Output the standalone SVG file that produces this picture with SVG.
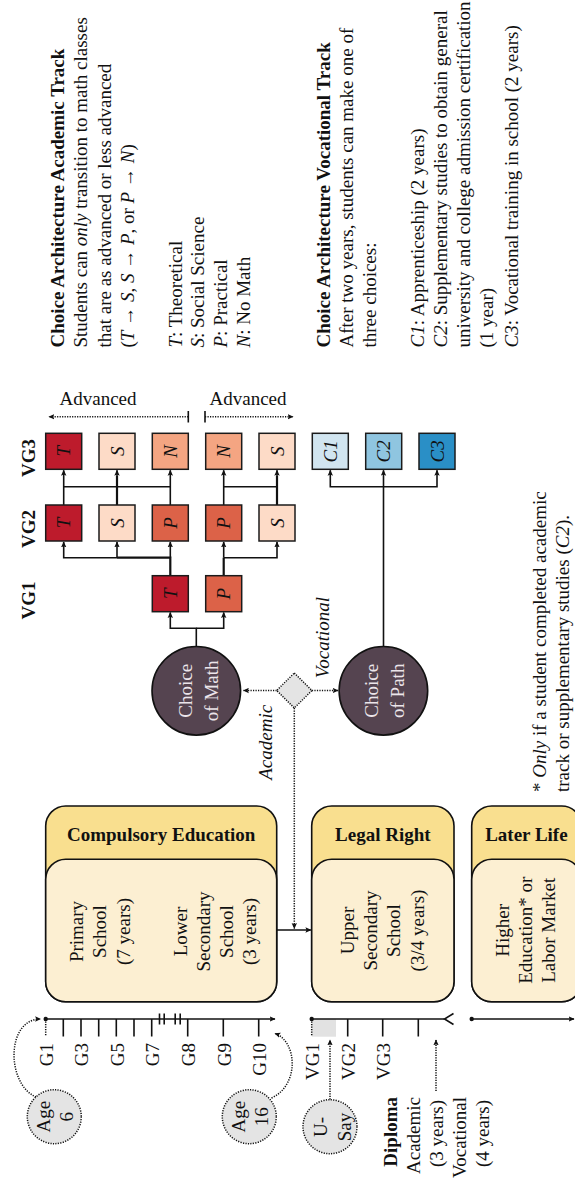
<svg xmlns="http://www.w3.org/2000/svg" width="575" height="1181" viewBox="0 0 575 1181">
<defs>
<style>
text{font-family:"Liberation Serif","Times New Roman",serif;font-size:19px;fill:#111}
.b{font-weight:bold}
.i{font-style:italic}
.m{text-anchor:middle}
.e{text-anchor:end}
.box{stroke:#1b1b1b;stroke-width:1.5}
.ln{fill:none;stroke:#111;stroke-width:1.6}
.lt{fill:none;stroke:#111;stroke-width:2.2}
.dot{fill:none;stroke:#111;stroke-width:1.5;stroke-dasharray:1.2 1.3}
.cw{fill:#ece5ea}
.hdr{fill:#f9df8f;stroke:#111;stroke-width:1.6}
.inn{fill:#fcefd2;stroke:#111;stroke-width:1.6}
.gc{fill:#e4e4e4;stroke:#111;stroke-width:1.5;stroke-dasharray:1.2 1.3}
.dk{fill:#554450;stroke:#111;stroke-width:1.6}
.cT{fill:#bd1b2c}.cS{fill:#fddbc7}.cP{fill:#dc6248}.cN{fill:#f4a582}
.c1{fill:#d1e5f0}.c2{fill:#8fc5e0}.c3{fill:#2a8fc6}
</style>
<marker id="ah" viewBox="0 0 10 10" refX="9" refY="5" markerWidth="6" markerHeight="6" markerUnits="userSpaceOnUse" orient="auto">
<path d="M0,0.5 L10,5 L0,9.5 L2,5 z" fill="#111"/>
</marker>
</defs>

<!-- Top description blocks -->
<g id="academic-text" transform="translate(64.3,347.5) rotate(-90)">
<text class="b" x="0" y="0">Choice Architecture Academic Track</text>
<text x="0" y="23.2">Students can <tspan class="i">only</tspan> transition to math classes</text>
<text x="0" y="47">that are as advanced or less advanced</text>
<text x="0" y="70">(<tspan class="i">T</tspan> → <tspan class="i">S</tspan>, <tspan class="i">S</tspan> → <tspan class="i">P</tspan>, or <tspan class="i">P</tspan> → <tspan class="i">N</tspan>)</text>
<text x="0" y="117.5"><tspan class="i">T</tspan>: Theoretical</text>
<text x="0" y="140"><tspan class="i">S</tspan>: Social Science</text>
<text x="0" y="163"><tspan class="i">P</tspan>: Practical</text>
<text x="0" y="186"><tspan class="i">N</tspan>: No Math</text>
</g>
<g id="vocational-text" transform="translate(330,347.5) rotate(-90)">
<text class="b" x="0" y="0">Choice Architecture Vocational Track</text>
<text x="0" y="22.8">After two years, students can make one of</text>
<text x="0" y="46">three choices:</text>
<text x="0" y="94"><tspan class="i">C1</tspan>: Apprenticeship (2 years)</text>
<text x="0" y="116.8"><tspan class="i">C2</tspan>: Supplementary studies to obtain general</text>
<text x="0" y="140">university and college admission certification</text>
<text x="0" y="163">(1 year)</text>
<text x="0" y="187.5"><tspan class="i">C3</tspan>: Vocational training in school (2 years)</text>
</g>

<!-- Advanced labels -->
<g id="advanced-left">
<text class="m" x="98" y="405">Advanced</text>
</g>
<g id="advanced-right">
<text class="m" x="248" y="405">Advanced</text>
</g>

<!-- VG row labels -->
<g id="vg-labels">
<text class="b m" transform="translate(35,458) rotate(-90)">VG3</text>
<text class="b m" transform="translate(35,529) rotate(-90)">VG2</text>
<text class="b m" transform="translate(35,600.5) rotate(-90)">VG1</text>
</g>

<!-- Connectors -->
<g id="connectors">
<path class="dot" d="M188.3,416.7 H49" marker-end="url(#ah)"/>
<path class="ln" d="M188.3,411 V422.5"/>
<path class="dot" d="M205,416.7 H293" marker-end="url(#ah)"/>
<path class="ln" d="M205,411 V422.5"/>

<path class="ln" d="M196.3,646.5 V628.3 H170.3 V612.5" marker-end="url(#ah)"/>
<path class="ln" d="M196.3,628.3 H223.7 V612.5" marker-end="url(#ah)"/>

<path class="lt" d="M170.3,575.7 V557.7 H117"/>
<path class="ln" d="M117,557.7 H63.7 V542" marker-end="url(#ah)"/>
<path class="ln" d="M117,557.7 V542" marker-end="url(#ah)"/>
<path class="ln" d="M170.3,557.7 V542" marker-end="url(#ah)"/>
<path class="lt" d="M223.7,575.7 V557.7"/>
<path class="ln" d="M223.7,557.7 V542" marker-end="url(#ah)"/>
<path class="ln" d="M223.7,557.7 H277 V542" marker-end="url(#ah)"/>

<path class="ln" d="M63.7,505 V470.3" marker-end="url(#ah)"/>
<path class="ln" d="M63.7,486.7 H170.3"/>
<path class="lt" d="M117,505 V476"/>
<path class="ln" d="M117,476 V470.3" marker-end="url(#ah)"/>
<path class="ln" d="M170.3,505 V470.3" marker-end="url(#ah)"/>
<path class="ln" d="M223.7,505 V470.3" marker-end="url(#ah)"/>
<path class="ln" d="M223.7,486.7 H277"/>
<path class="lt" d="M277,505 V476"/>
<path class="ln" d="M277,476 V470.3" marker-end="url(#ah)"/>

<path class="ln" d="M383.5,646.5 V486.7 H330.3 V470.3" marker-end="url(#ah)"/>
<path class="ln" d="M383.5,486.7 H437 V470.3" marker-end="url(#ah)"/>
<path class="ln" d="M383.5,486.7 V470.3" marker-end="url(#ah)"/>

<path class="dot" d="M276.7,690.5 H243.5" marker-end="url(#ah)"/>
<path class="dot" d="M311.9,690.5 H338" marker-end="url(#ah)"/>
<path class="dot" d="M294.3,708 V928.5" marker-end="url(#ah)"/>
<path class="ln" d="M276.7,930 H310.8" marker-end="url(#ah)"/>

<path class="dot" d="M36,1097 C6,1084 6,1019 40.5,1019" marker-end="url(#ah)"/>
<path class="dot" d="M271.5,1098 C300,1085 297,1041 275,1033.5" marker-end="url(#ah)"/>
<path class="dot" d="M330,1099.5 V1040" marker-end="url(#ah)"/>
<path class="dot" d="M436,1091 V1040" marker-end="url(#ah)"/>
</g>

<!-- Academic / Vocational labels -->
<text class="i m" transform="translate(271.5,742.3) rotate(-90)">Academic</text>
<text class="i m" transform="translate(329,637.5) rotate(-90)">Vocational</text>

<!-- Math boxes VG3 -->
<g id="vg3-T"><rect class="box cT" x="45.7" y="433.3" width="36" height="36"/><text class="i m" transform="translate(70.2,451.3) rotate(-90)">T</text></g>
<g id="vg3-S1"><rect class="box cS" x="99" y="433.3" width="36" height="36"/><text class="i m" transform="translate(123.5,451.3) rotate(-90)">S</text></g>
<g id="vg3-N1"><rect class="box cN" x="152.3" y="433.3" width="36" height="36"/><text class="i m" transform="translate(176.8,451.3) rotate(-90)">N</text></g>
<g id="vg3-N2"><rect class="box cN" x="205.7" y="433.3" width="36" height="36"/><text class="i m" transform="translate(230.2,451.3) rotate(-90)">N</text></g>
<g id="vg3-S2"><rect class="box cS" x="259" y="433.3" width="36" height="36"/><text class="i m" transform="translate(283.5,451.3) rotate(-90)">S</text></g>
<g id="vg3-C1"><rect class="box c1" x="312.3" y="433.3" width="36" height="36"/><text class="i m" transform="translate(336.8,451.3) rotate(-90)">C1</text></g>
<g id="vg3-C2"><rect class="box c2" x="365.7" y="433.3" width="36" height="36"/><text class="i m" transform="translate(390.2,451.3) rotate(-90)">C2</text></g>
<g id="vg3-C3"><rect class="box c3" x="419" y="433.3" width="36" height="36"/><text class="i m" transform="translate(443.5,451.3) rotate(-90)">C3</text></g>

<!-- Math boxes VG2 -->
<g id="vg2-T"><rect class="box cT" x="45.7" y="505" width="36" height="36"/><text class="i m" transform="translate(70.2,523) rotate(-90)">T</text></g>
<g id="vg2-S1"><rect class="box cS" x="99" y="505" width="36" height="36"/><text class="i m" transform="translate(123.5,523) rotate(-90)">S</text></g>
<g id="vg2-P1"><rect class="box cP" x="152.3" y="505" width="36" height="36"/><text class="i m" transform="translate(176.8,523) rotate(-90)">P</text></g>
<g id="vg2-P2"><rect class="box cP" x="205.7" y="505" width="36" height="36"/><text class="i m" transform="translate(230.2,523) rotate(-90)">P</text></g>
<g id="vg2-S2"><rect class="box cS" x="259" y="505" width="36" height="36"/><text class="i m" transform="translate(283.5,523) rotate(-90)">S</text></g>

<!-- Math boxes VG1 -->
<g id="vg1-T"><rect class="box cT" x="152.3" y="575.7" width="36" height="36"/><text class="i m" transform="translate(176.8,593.7) rotate(-90)">T</text></g>
<g id="vg1-P"><rect class="box cP" x="205.7" y="575.7" width="36" height="36"/><text class="i m" transform="translate(230.2,593.7) rotate(-90)">P</text></g>

<!-- Choice circles and diamond -->
<g id="choice-math">
<circle class="dk" cx="196.3" cy="690.8" r="44.3"/>
<text class="m cw" transform="translate(191.5,690.8) rotate(-90)">Choice</text>
<text class="m cw" transform="translate(217.8,690.8) rotate(-90)">of Math</text>
</g>
<g id="choice-path">
<circle class="dk" cx="383.4" cy="690.8" r="44.3"/>
<text class="m cw" transform="translate(377.6,690.8) rotate(-90)">Choice</text>
<text class="m cw" transform="translate(403.6,690.8) rotate(-90)">of Path</text>
</g>
<g id="decision">
<path class="gc" d="M294.3,673 L311.9,690.5 L294.3,708 L276.7,690.5 Z"/>
</g>

<!-- Stage boxes -->
<g id="compulsory">
<rect class="hdr" x="45.7" y="806" width="231" height="195.7" rx="20"/>
<rect class="inn" x="45.7" y="859.3" width="231" height="142.4" rx="20"/>
<text class="b m" x="161.2" y="840.7">Compulsory Education</text>
<g transform="translate(83.3,931.5) rotate(-90)">
<text class="m" x="0" y="0">Primary</text>
<text class="m" x="0" y="23.2">School</text>
<text class="m" x="0" y="46.4">(7 years)</text>
</g>
<g transform="translate(186.5,931.5) rotate(-90)">
<text class="m" x="0" y="0">Lower</text>
<text class="m" x="0" y="23.2">Secondary</text>
<text class="m" x="0" y="46.4">School</text>
<text class="m" x="0" y="69.6">(3 years)</text>
</g>
</g>
<g id="legal-right">
<rect class="hdr" x="311.7" y="806" width="142.3" height="195.7" rx="20"/>
<rect class="inn" x="311.7" y="859.3" width="142.3" height="142.4" rx="20"/>
<text class="b m" x="382.8" y="840.7">Legal Right</text>
<g transform="translate(354,930.5) rotate(-90)">
<text class="m" x="0" y="0">Upper</text>
<text class="m" x="0" y="23.2">Secondary</text>
<text class="m" x="0" y="46.4">School</text>
<text class="m" x="0" y="69.6">(3/4 years)</text>
</g>
</g>
<g id="later-life">
<rect class="hdr" x="471.7" y="806" width="110" height="195.7" rx="20"/>
<rect class="inn" x="471.7" y="859.3" width="110" height="142.4" rx="20"/>
<text class="b m" x="526.4" y="840.7">Later Life</text>
<g transform="translate(508.6,930.3) rotate(-90)">
<text class="m" x="0" y="0">Higher</text>
<text class="m" x="0" y="23.2">Education* or</text>
<text class="m" x="0" y="46.4">Labor Market</text>
</g>
</g>

<!-- Footnote -->
<g id="footnote" transform="translate(545.7,792) rotate(-90)">
<text x="0" y="0">* <tspan class="i">Only</tspan> if a student completed academic</text>
<text x="0" y="23.3">track or supplementary studies (<tspan class="i">C2</tspan>).</text>
</g>

<!-- Timeline 1: compulsory grades -->
<g id="timeline-compulsory">
<path class="ln" d="M45.7,1019 H275" marker-end="url(#ah)"/>
<circle cx="45.7" cy="1019" r="2.2" fill="#111"/>
<path class="dot" d="M45.7,1019 V1036.5"/>
<path class="ln" d="M63.3,1019 V1036.5 M81,1019 V1036.5 M98.7,1019 V1036.5 M116.3,1019 V1036.5 M134,1019 V1036.5 M151.7,1019 V1036.5 M187.7,1019 V1036.5 M223.3,1019 V1036.5 M258.7,1019 V1036.5"/>
<path class="ln" d="M159.5,1013.5 V1024.5 M164.2,1013.5 V1024.5 M175.2,1013.5 V1024.5 M180.2,1013.5 V1024.5"/>
<text class="e" transform="translate(53,1043) rotate(-90)">G1</text>
<text class="e" transform="translate(88.3,1043) rotate(-90)">G3</text>
<text class="e" transform="translate(123.6,1043) rotate(-90)">G5</text>
<text class="e" transform="translate(159,1043) rotate(-90)">G7</text>
<text class="e" transform="translate(195,1043) rotate(-90)">G8</text>
<text class="e" transform="translate(230.6,1043) rotate(-90)">G9</text>
<text class="e" transform="translate(266,1043) rotate(-90)">G10</text>
</g>

<!-- Timeline 2: upper secondary -->
<g id="timeline-upper">
<rect x="311.7" y="1019" width="24.3" height="17.7" fill="#e2e2e2"/>
<path class="ln" d="M311.7,1019 H444.5"/>
<path class="ln" d="M453.5,1013.5 L444.5,1019 L453.5,1024.5"/>
<circle cx="311.7" cy="1019" r="2.2" fill="#111"/>
<path class="dot" d="M311.7,1019 V1036.5"/>
<path class="ln" d="M347.7,1019 V1036.5 M382.7,1019 V1036.5 M418.3,1019 V1036.5"/>
<text class="e" transform="translate(319,1043) rotate(-90)">VG1</text>
<text class="e" transform="translate(355,1043) rotate(-90)">VG2</text>
<text class="e" transform="translate(390,1043) rotate(-90)">VG3</text>
</g>

<!-- Timeline 3: later life -->
<g id="timeline-later">
<path class="ln" d="M471.7,1019 H574" marker-end="url(#ah)"/>
<circle cx="471.7" cy="1019" r="2.2" fill="#111"/>
</g>

<!-- Age and U-Say markers -->
<g id="age6">
<circle class="gc" cx="54.3" cy="1116.7" r="27"/>
<text class="m" transform="translate(49.5,1116.7) rotate(-90)">Age</text>
<text class="m" transform="translate(72.5,1116.7) rotate(-90)">6</text>
</g>
<g id="age16">
<circle class="gc" cx="249.3" cy="1116.7" r="27"/>
<text class="m" transform="translate(245,1116.7) rotate(-90)">Age</text>
<text class="m" transform="translate(268.2,1116.7) rotate(-90)">16</text>
</g>
<g id="usay">
<circle class="gc" cx="330" cy="1126.7" r="27"/>
<text class="m" transform="translate(326.5,1127) rotate(-90)">U-</text>
<text class="m" transform="translate(351,1127) rotate(-90)">Say</text>
</g>

<!-- Diploma legend -->
<g id="diploma" transform="translate(396.7,1097) rotate(-90)">
<text class="b e" x="0" y="0">Diploma</text>
<text class="e" x="0" y="23.2">Academic</text>
<text class="e" x="-3" y="46.4">(3 years)</text>
<text class="e" x="0" y="69.6">Vocational</text>
<text class="e" x="-3" y="92.8">(4 years)</text>
</g>
</svg>
